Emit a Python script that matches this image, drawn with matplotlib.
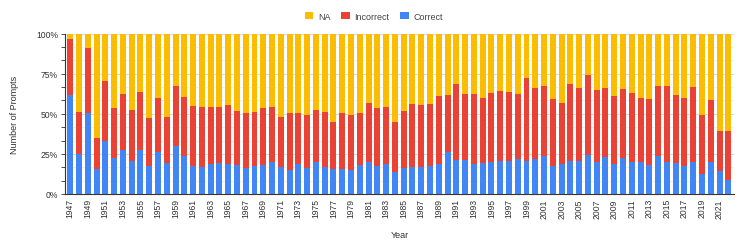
import matplotlib
matplotlib.use("Agg")
import matplotlib.pyplot as plt
import numpy as np
from matplotlib.ticker import MultipleLocator, FuncFormatter

plt.rcParams['font.family'] = ['Liberation Sans', 'DejaVu Sans']

years = list(range(1947, 2023))
correct = [62, 25, 50.3, 15.6, 32.8, 22.7, 27.2, 20.6, 27.7, 17.3,
           26, 19.5, 29.7, 23.7, 17.5, 16.8, 18.5, 19.3, 18.5, 18.3,
           16.2, 17.5, 18.3, 20, 16.6, 15, 18.5, 16.2, 19.8, 16.6,
           15.4, 15.4, 15, 18.3, 20, 17.5, 18.5, 13.5, 16.2, 16.6,
           16.6, 17.5, 18.5, 26, 21.2, 21, 18.7, 19.3, 20, 20.6,
           20.6, 22, 20.8, 22, 23.5, 17.5, 18.5, 20.6, 20.6, 24.5,
           20, 23.3, 18.7, 22.2, 20, 20, 18.3, 23.5, 20, 19.3,
           17.3, 19.8, 12.5, 20, 14.1, 8.7]
correct_plus_incorrect = [96.9, 51.1, 91.1, 34.9, 70.3, 53.4, 62.6, 52.6, 63.4, 47.4,
                          59.9, 48, 67.6, 60.5, 54.9, 54.1, 54.1, 54.5, 55.7, 52,
                          50.3, 51.1, 53.6, 54.1, 47.8, 50.7, 50.7, 49.5, 52.4, 51.4,
                          45.1, 50.3, 49.5, 50.3, 57, 53.6, 54.5, 44.9, 52, 56.1,
                          55.3, 56.1, 61.3, 61.7, 68.6, 62.2, 62.6, 59.7, 62.8, 64.2,
                          63.8, 62.2, 72.3, 66.1, 67.6, 59.3, 57, 68.6, 66.1, 74.2,
                          64.9, 66.1, 60.9, 65.7, 63, 59.7, 59.3, 67.4, 67.4, 61.7,
                          59.7, 66.5, 49.1, 58.8, 39.5, 39.3]
incorrect = [t - c for t, c in zip(correct_plus_incorrect, correct)]
na = [100 - t for t in correct_plus_incorrect]

c_blue = '#4285F4'
c_red = '#EA4335'
c_yel = '#FBBC04'
txt = '#333333'

fig = plt.figure(figsize=(7.47, 2.53), dpi=100)
ax = fig.add_axes([65/747, 1-195/253, (734-65)/747, (195-34.7)/253])

x = np.arange(len(years))
w = 0.68
ax.bar(x, correct, w, color=c_blue, label='Correct', zorder=3)
ax.bar(x, incorrect, w, bottom=correct, color=c_red, label='Incorrect', zorder=3)
ax.bar(x, na, w, bottom=correct_plus_incorrect, color=c_yel, label='NA', zorder=3)

ax.set_ylim(0, 100)
ax.set_xlim(-0.6, len(years) - 0.35)
ax.yaxis.set_major_locator(MultipleLocator(25))
ax.yaxis.set_minor_locator(MultipleLocator(100/12))
ax.yaxis.set_major_formatter(FuncFormatter(lambda v, p: f'{int(v)}%'))
ax.grid(axis='y', which='major', color='#d9d9d9', linewidth=0.7, zorder=0)
ax.grid(axis='y', which='minor', color='#eeeeee', linewidth=0.6, zorder=0)

ax.set_xticks(x[::2])
ax.set_xticklabels([str(y) for y in years[::2]], rotation=90, fontsize=6.2, color=txt)
ax.tick_params(axis='x', length=0, pad=3)
ax.tick_params(axis='y', which='major', labelsize=6.2, colors=txt, length=3, width=0.6, pad=2)
ax.tick_params(axis='y', which='minor', length=3, width=0.6, color=txt)

for s in ['top', 'right']:
    ax.spines[s].set_visible(False)
ax.spines['left'].set_color('#333333')
ax.spines['left'].set_linewidth(0.8)
ax.spines['bottom'].set_color('#333333')
ax.spines['bottom'].set_linewidth(0.8)

ax.set_ylabel('Number of Prompts', fontsize=6.5, color=txt, labelpad=12)
ax.set_xlabel('Year', fontsize=6.5, color=txt, labelpad=9)

handles, labels = ax.get_legend_handles_labels()
leg = fig.legend(handles[::-1], labels[::-1], loc='center', bbox_to_anchor=(374/747, 1-17/253),
                 ncol=3, frameon=False, fontsize=6.5, handlelength=0.9, handleheight=0.9,
                 columnspacing=1.2, handletextpad=0.55)
for t in leg.get_texts():
    t.set_color('#444444')

fig.savefig('out.png', dpi=100)
